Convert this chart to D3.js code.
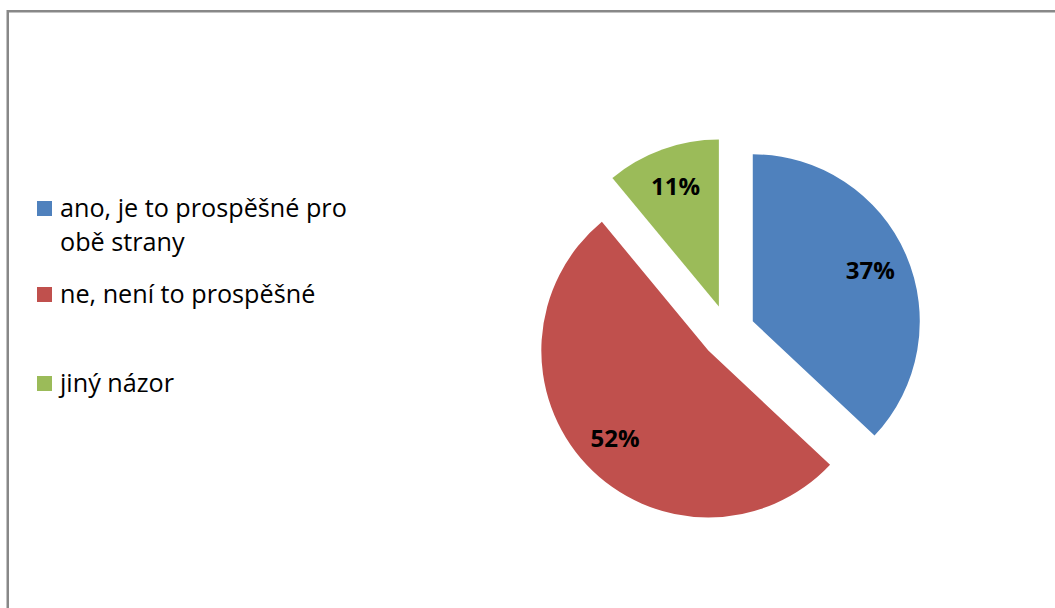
<!DOCTYPE html>
<html>
<head>
<meta charset="utf-8">
<script src="https://cdn.jsdelivr.net/npm/d3@7"></script>
<style>
  html, body { margin: 0; padding: 0; background: #fff; }
  svg { display: block; }
</style>
</head>
<body>
<svg id="chart" width="1055" height="608"></svg>
<script>
// Survey answers and their shares (percent)
const categories = ["ano, je to prospěšné pro obě strany", "ne, není to prospěšné", "jiný názor"];
const legendLines = [["ano, je to prospěšné pro", "obě strany"], ["ne, není to prospěšné"], ["jiný názor"]];
const values = [37, 52, 11];
const colors = ["#4F81BD", "#C0504D", "#9BBB59"];

const svg = d3.select("#chart");
const FONT = "'Open Sans', 'Noto Sans', sans-serif";

// chart frame
svg.append("rect")
  .attr("x", 7.75).attr("y", 11.25)
  .attr("width", 1100).attr("height", 700)
  .attr("fill", "#fff")
  .attr("stroke", "#888888")
  .attr("stroke-width", 2.5);

// exploded pie
const cx = 728, cy = 332, radius = 167, explode = 27;
const pie = d3.pie().sort(null).value(d => d)(values);
const arc = d3.arc().innerRadius(0).outerRadius(radius);
const labelArc = d3.arc().innerRadius(128).outerRadius(128);

const g = svg.append("g").attr("transform", `translate(${cx},${cy})`);
const slices = g.selectAll("g.slice").data(pie).enter().append("g")
  .attr("class", "slice")
  .attr("transform", d => {
    const m = (d.startAngle + d.endAngle) / 2;
    return `translate(${explode * Math.sin(m)},${-explode * Math.cos(m)})`;
  });

slices.append("path")
  .attr("d", arc)
  .attr("fill", (d, i) => colors[i]);

slices.append("text")
  .attr("transform", d => `translate(${labelArc.centroid(d)})`)
  .attr("text-anchor", "middle")
  .attr("dy", "0.36em")
  .attr("font-family", FONT)
  .attr("font-weight", "bold")
  .attr("font-size", 24)
  .attr("fill", "#000")
  .text(d => d.value + "%");

// legend
const legendBaselines = [217, 303, 392];
const lg = svg.append("g");
legendLines.forEach((lines, i) => {
  const y = legendBaselines[i];
  lg.append("rect")
    .attr("x", 37).attr("y", y - 16)
    .attr("width", 15).attr("height", 15)
    .attr("fill", colors[i]);
  const t = lg.append("text")
    .attr("x", 60).attr("y", y)
    .attr("font-family", FONT)
    .attr("font-size", 25.2)
    .attr("fill", "#000");
  lines.forEach((line, j) => {
    t.append("tspan").attr("x", 60).attr("y", y + j * 34).text(line);
  });
});
</script>
</body>
</html>
